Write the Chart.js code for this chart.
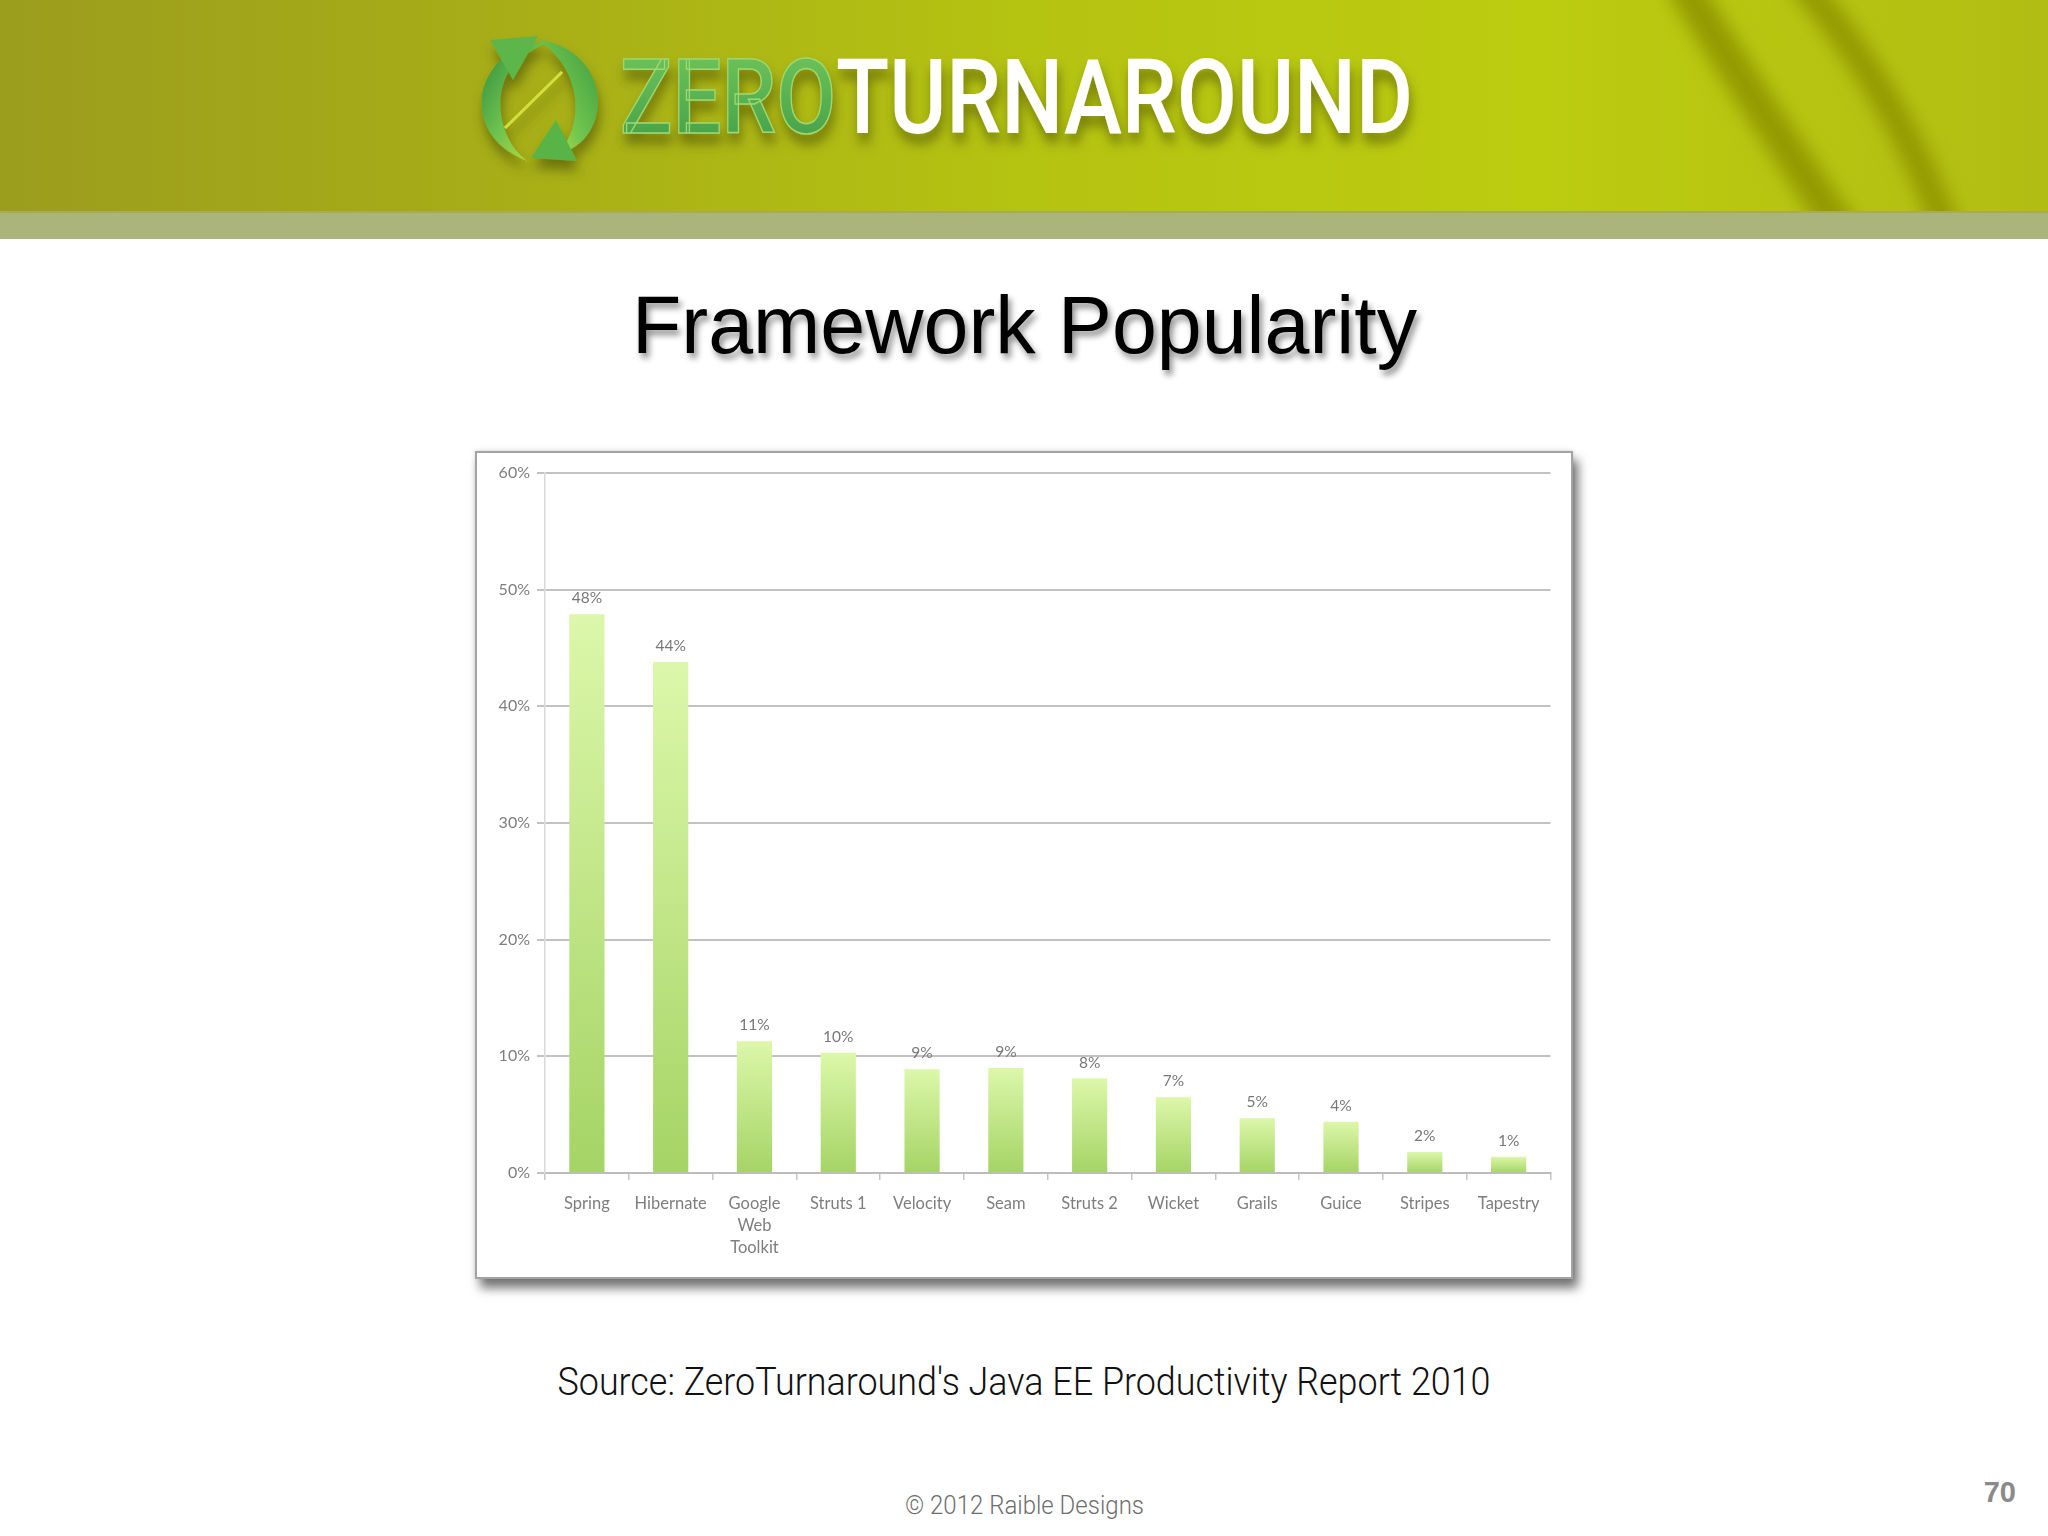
<!DOCTYPE html>
<html><head><meta charset="utf-8">
<script src="https://cdn.jsdelivr.net/npm/chart.js@4.4.1/dist/chart.umd.min.js"></script>
<style>
html,body{margin:0;padding:0;background:#fff;width:2048px;height:1536px;overflow:hidden;}
#bg{position:absolute;left:0;top:0;}
#box{position:absolute;left:475px;top:451px;width:1094px;height:824px;border:2px solid #a3a3a3;background:#fff;box-shadow:5px 9px 10px rgba(0,0,0,0.55),0 -1px 4px rgba(0,0,0,0.12);}
#wrap{position:absolute;left:475px;top:451px;width:1098px;height:828px;}
</style></head>
<body>
<svg id="bg" width="2048" height="1536" viewBox="0 0 2048 1536">
<defs>
 <linearGradient id="ban" x1="0" x2="1" y1="0" y2="0">
  <stop offset="0" stop-color="#9b9d1d"/>
  <stop offset="0.25" stop-color="#a7ae17"/>
  <stop offset="0.5" stop-color="#b5c311"/>
  <stop offset="0.75" stop-color="#bccc0f"/>
  <stop offset="1" stop-color="#b2bd13"/>
 </linearGradient>
 <clipPath id="banclip"><rect x="0" y="0" width="2048" height="212"/></clipPath>
 <filter id="blur8" x="-50%" y="-20%" width="200%" height="140%"><feGaussianBlur stdDeviation="9"/></filter>
 <filter id="tsh" x="-5%" y="-30%" width="110%" height="160%"><feDropShadow dx="3" dy="5" stdDeviation="3" flood-color="#000" flood-opacity="0.45"/></filter>
 <filter id="lsh" x="-20%" y="-20%" width="140%" height="160%"><feDropShadow dx="2" dy="10" stdDeviation="6" flood-color="#3f4200" flood-opacity="0.55"/></filter>
 <linearGradient id="zg" x1="0" y1="0" x2="0" y2="1"><stop offset="0" stop-color="#74c85c"/><stop offset="1" stop-color="#3f9c47"/></linearGradient>
 <linearGradient id="ag" x1="0" y1="0" x2="1" y2="1"><stop offset="0" stop-color="#2e8c3c"/><stop offset="0.5" stop-color="#6dc24f"/><stop offset="1" stop-color="#c8e23c"/></linearGradient>
 <linearGradient id="ag2" x1="1" y1="0" x2="0" y2="1"><stop offset="0" stop-color="#3c9a40"/><stop offset="0.6" stop-color="#74c850"/><stop offset="1" stop-color="#d6e838"/></linearGradient>
</defs>
<rect x="0" y="0" width="2048" height="212" fill="url(#ban)"/>
<g clip-path="url(#banclip)">
 <g filter="url(#blur8)" fill="none" stroke="#939a05" stroke-linecap="butt">
  <path d="M1680 -20 Q1750 95 1848 240" stroke-width="34"/>
  <path d="M1800 -20 Q1899 95 1950 240" stroke-width="28"/>
 </g>
</g>
<rect x="0" y="211" width="2048" height="28" fill="#abb57b"/>
<rect x="0" y="211" width="2048" height="2" fill="#a2a636" opacity="0.6"/>
<g filter="url(#lsh)">
 <path d="M546 42 C478 44 452 132 527 161 C492 134 490 72 530 52 Z" fill="url(#ag)"/>
 <polygon points="490,40 538,36 513,80" fill="#5cb648"/>
 <path d="M539 40 C612 50 616 140 558 154 C584 126 584 72 539 40 Z" fill="url(#ag2)"/>
 <polygon points="531,158 577,161 556,120" fill="#58b446"/>
 <line x1="505" y1="128" x2="562" y2="72" stroke="#d4e040" stroke-width="3"/>
</g>
<g filter="url(#lsh)" font-family="Roboto, 'Liberation Sans', sans-serif" font-weight="500" font-size="104">
 <text x="620" y="133" textLength="216" lengthAdjust="spacingAndGlyphs" fill="url(#zg)" stroke="#9ed874" stroke-width="1.5">ZERO</text>
 <text x="836" y="133" textLength="577" lengthAdjust="spacingAndGlyphs" fill="#ffffff">TURNAROUND</text>
</g>
<text x="1024.5" y="353" text-anchor="middle" textLength="785" lengthAdjust="spacingAndGlyphs" font-family="'Liberation Sans', Arial, sans-serif" font-size="82" fill="#000" filter="url(#tsh)">Framework Popularity</text>
<text x="1024" y="1395" text-anchor="middle" textLength="933" lengthAdjust="spacingAndGlyphs" font-family="Roboto, 'Liberation Sans', sans-serif" font-weight="300" font-size="38" fill="#111">Source: ZeroTurnaround's Java EE Productivity Report 2010</text>
<text x="1024.5" y="1514" text-anchor="middle" textLength="239" lengthAdjust="spacingAndGlyphs" font-family="Roboto, 'Liberation Sans', sans-serif" font-weight="300" font-size="25" fill="#6e6e6e">© 2012 Raible Designs</text>
<text x="2016" y="1502" text-anchor="end" font-family="'Liberation Sans', Arial, sans-serif" font-weight="700" font-size="29" fill="#8a8a8a">70</text>
</svg>
<div id="box"></div>
<div id="wrap"><canvas id="c" width="1098" height="828" style="width:1098px;height:828px"></canvas></div>
<script>
const categories = ['Spring', 'Hibernate', ['Google', 'Web', 'Toolkit'], 'Struts 1', 'Velocity', 'Seam', 'Struts 2', 'Wicket', 'Grails', 'Guice', 'Stripes', 'Tapestry'];
const shares = [47.9, 43.8, 11.3, 10.3, 8.9, 9.0, 8.1, 6.5, 4.7, 4.4, 1.8, 1.4];
const yTickValues = [0, 10, 20, 30, 40, 50, 60];
const yMax = 60;

function barFill(c) {
  const chart = c.chart;
  if (!chart.chartArea || c.dataIndex === undefined) return '#c5e88c';
  const y = chart.scales.y;
  const top = y.getPixelForValue(shares[c.dataIndex]);
  const bottom = y.getPixelForValue(0);
  const g = chart.ctx.createLinearGradient(0, top, 0, bottom);
  g.addColorStop(0, '#dcf7aa');
  g.addColorStop(1, '#a5d465');
  return g;
}

const valueLabels = {
  id: 'valueLabels',
  afterDatasetsDraw(chart) {
    const ctx = chart.ctx;
    const meta = chart.getDatasetMeta(0);
    ctx.save();
    ctx.font = '15.5px Lato, "Open Sans", sans-serif';
    ctx.fillStyle = '#787878';
    ctx.textAlign = 'center';
    ctx.textBaseline = 'alphabetic';
    meta.data.forEach((bar, i) => {
      ctx.fillText(Math.round(shares[i]) + '%', bar.x, bar.y - 11);
    });
    ctx.restore();
  }
};

function build() {
  const cv = document.getElementById('c');
  new Chart(cv, {
    type: 'bar',
    data: {
      labels: categories,
      datasets: [{ data: shares, backgroundColor: barFill, borderWidth: 0, categoryPercentage: 1, barPercentage: 0.42 }]
    },
    options: {
      responsive: false,
      animation: false,
      devicePixelRatio: 1,
      layout: { padding: { left: 0, right: 22.5, top: 22, bottom: 0 } },
      plugins: { legend: { display: false }, tooltip: { enabled: false } },
      scales: {
        x: {
          offset: true,
          grid: { offset: true, drawOnChartArea: false, drawTicks: true, tickLength: 7, color: '#c6c6c6', lineWidth: 1.5 },
          border: { display: true, color: '#bdbdbd', width: 2 },
          ticks: { color: '#7e7e7e', font: { family: 'Lato', size: 16.5, lineHeight: 1.32 }, padding: 13, maxRotation: 0, minRotation: 0, autoSkip: false },
          afterFit(s) { s.height = 106; }
        },
        y: {
          min: 0, max: yMax,
          grid: { color: '#c2c2c2', lineWidth: 2, tickLength: 8, drawTicks: true },
          border: { display: true, color: '#d8d8d8', width: 1.5 },
          ticks: { color: '#7e7e7e', font: { family: 'Lato', size: 16 }, padding: 7, callback: v => v + '%' },
          afterBuildTicks(s) { s.ticks = yTickValues.map(v => ({ value: v })); },
          afterFit(s) { s.width = 70; }
        }
      }
    },
    plugins: [valueLabels]
  });
}
if (document.fonts && document.fonts.load) {
  document.fonts.load('15px Lato').then(build, build);
} else { build(); }
</script>
</body></html>
